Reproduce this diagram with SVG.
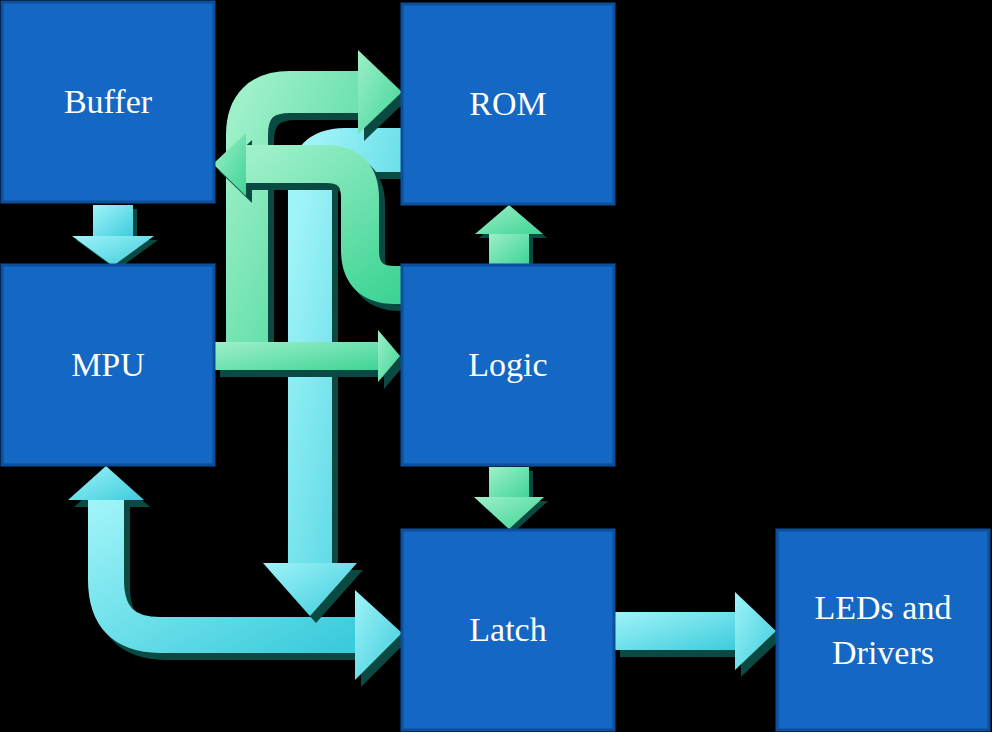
<svg xmlns="http://www.w3.org/2000/svg" width="992" height="732" viewBox="0 0 992 732">
<defs>
<linearGradient id="g" x1="0" y1="0" x2="1" y2="1"><stop offset="0" stop-color="#9ef0c8"/><stop offset="1" stop-color="#3fd495"/></linearGradient>
<linearGradient id="c" x1="0" y1="0" x2="1" y2="1"><stop offset="0" stop-color="#a0f4f8"/><stop offset="1" stop-color="#3ccbdc"/></linearGradient>
</defs>
<style>
.box{fill:#1467c2;stroke:#0c4f9c;stroke-width:3}
.t{fill:#fff;font-family:"Liberation Serif",serif;font-size:34px;text-anchor:middle}
.sh{fill:none;stroke:#0b4a42;stroke-linejoin:round}
.shf{fill:#0b4a42}
.gs{fill:none;stroke:url(#g)}
.cs{fill:none;stroke:url(#c)}
.gf{fill:url(#g)}
.cf{fill:url(#c)}
</style>
<rect width="992" height="732" fill="#000"/>
<g id="connectors">
<g transform="translate(6,7)"><path class="sh" stroke-width="36" d="M106,498 V580 Q106,635 160,635 H360"/><polygon class="shf" points="68,500 106,466 144,500"/><polygon class="shf" points="355,590 402,633 355,680"/></g>
<path class="cs" stroke-width="36" d="M106,498 V580 Q106,635 160,635 H360"/>
<polygon class="cf" points="68,500 106,466 144,500"/>
<polygon class="cf" points="355,590 402,633 355,680"/>
<g transform="translate(6,7)"><path class="sh" stroke-width="44" d="M402,150 H345 Q310,150 310,185 V565"/><polygon class="shf" points="263,563 357,563 310,616"/></g>
<path class="cs" stroke-width="44" d="M402,150 H345 Q310,150 310,185 V565"/>
<polygon class="cf" points="263,563 357,563 310,616"/>
<g transform="translate(6,7)"><path class="sh" stroke-width="42" d="M247,345 V135 Q247,92 290,92 H362"/><polygon class="shf" points="358,50 402,92 358,134"/></g>
<path class="gs" stroke-width="42" d="M247,345 V135 Q247,92 290,92 H362"/>
<polygon class="gf" points="358,50 402,92 358,134"/>
<g transform="translate(6,7)"><path class="sh" stroke-width="38" d="M402,285 H395 Q360,285 360,250 V198 Q360,164 326,164 H243"/><polygon class="shf" points="246,133 213,164 246,196"/></g>
<path class="gs" stroke-width="38" d="M402,285 H395 Q360,285 360,250 V198 Q360,164 326,164 H243"/>
<polygon class="gf" points="246,133 213,164 246,196"/>
<g transform="translate(6,7)"><rect class="shf" x="214" y="342" width="166" height="28"/><polygon class="shf" points="378,330 400,356 378,382"/></g>
<rect class="gf" x="214" y="342" width="166" height="28"/>
<polygon class="gf" points="378,330 400,356 378,382"/>
<g transform="translate(4,4)"><rect class="shf" x="93" y="205" width="40" height="33"/><polygon class="shf" points="72,236 154,236 113,266"/></g>
<rect class="cf" x="93" y="205" width="40" height="33"/>
<polygon class="cf" points="72,236 154,236 113,266"/>
<g transform="translate(4,4)"><rect class="shf" x="489" y="232" width="40" height="32"/><polygon class="shf" points="475,234 543,234 509,205"/></g>
<rect class="gf" x="489" y="232" width="40" height="32"/>
<polygon class="gf" points="475,234 543,234 509,205"/>
<g transform="translate(4,4)"><rect class="shf" x="489" y="467" width="40" height="32"/><polygon class="shf" points="474,497 544,497 509,529"/></g>
<rect class="gf" x="489" y="467" width="40" height="32"/>
<polygon class="gf" points="474,497 544,497 509,529"/>
<g transform="translate(6,7)"><rect class="shf" x="614" y="612" width="124" height="38"/><polygon class="shf" points="735,592 776,631 735,670"/></g>
<rect class="cf" x="614" y="612" width="124" height="38"/>
<polygon class="cf" points="735,592 776,631 735,670"/>
</g>
<g id="buffer"><rect class="box" x="2" y="2" width="212" height="200"/><text class="t" x="108" y="113">Buffer</text></g>
<g id="rom"><rect class="box" x="402" y="4" width="212" height="200"/><text class="t" x="508" y="115">ROM</text></g>
<g id="mpu"><rect class="box" x="2" y="265" width="212" height="200"/><text class="t" x="108" y="376">MPU</text></g>
<g id="logic"><rect class="box" x="402" y="265" width="212" height="200"/><text class="t" x="508" y="376">Logic</text></g>
<g id="latch"><rect class="box" x="402" y="530" width="212" height="200"/><text class="t" x="508" y="641">Latch</text></g>
<g id="leds"><rect class="box" x="777" y="530" width="212" height="200"/><text class="t" x="883" y="619">LEDs and</text><text class="t" x="883" y="664">Drivers</text></g>
</svg>
